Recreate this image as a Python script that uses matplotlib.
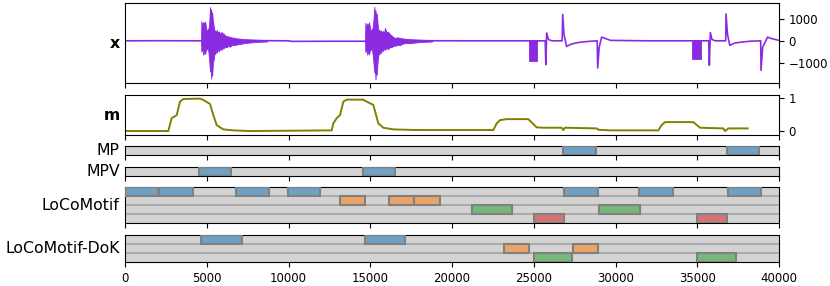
import matplotlib
matplotlib.use("Agg")
import matplotlib.pyplot as plt
from matplotlib.colors import to_rgba

# signal x: line through key points, bursts drawn as filled envelopes
x_t = [0, 2000, 4650, 7000, 8000, 10000, 10200, 12500, 14680, 18000, 21000, 24690,
       25220, 25700, 25740, 25790, 25900, 26100, 26740, 26770, 26850, 27010, 27300,
       27700, 28300, 28880, 28910, 29000, 29150, 29400, 29700, 32000, 34680,
       35210, 35700, 35740, 35800, 35900, 36100, 36740, 36760, 36850, 36990, 37300,
       37700, 38200, 38880, 38900, 39000, 39300, 39550, 40000]
x_v = [0, 5, 0, 10, 10, 0, -25, -20, -20, 5, 0, 0,
       0, 0, -1090, 360, 60, 0, 0, 1210, 300, -260, -150,
       -80, -30, 0, -1240, -300, 170, 100, 20, 0, 0,
       0, 0, -1120, 380, 60, 0, 0, 1230, 300, -210, -100,
       -60, -20, 0, -1350, -300, 170, 100, 20]

burst1_t = [4650, 4670, 4730, 4790, 4850, 4900, 4960, 5000, 5060, 5100, 5150, 5200, 5240,
            5270, 5300, 5330, 5380, 5440, 5480, 5520, 5570, 5610, 5680, 5750, 5820,
            5900, 5960, 6010, 6100, 6200, 6300, 6420, 6550, 6700, 6850, 7030, 7250,
            7500, 7750, 8050, 8400, 8700]
burst1_hi = [0, 900, 700, 860, 780, 880, 600, 420, 520, 550, 800, 1545, 1100,
             1450, 1150, 1300, 900, 600, 420, 480, 350, 500, 380, 430, 300,
             410, 280, 360, 250, 230, 200, 180, 150, 140, 110, 100, 80,
             70, 60, 50, 40, 30]
burst1_lo = [0, -500, -350, -640, -480, -600, -380, -400, -300, -500, -900, -1400, -1200,
             -1727, -1300, -1600, -1000, -800, -520, -600, -420, -545, -400, -480, -330,
             -420, -300, -360, -280, -300, -230, -270, -180, -200, -160, -150, -110,
             -90, -70, -50, -40, -30]

burst2_t = [14680, 14700, 14760, 14820, 14880, 14930, 14990, 15030, 15080, 15130, 15190,
            15250, 15290, 15320, 15360, 15400, 15440, 15470, 15520, 15560, 15600, 15650,
            15720, 15780, 15840, 15900, 16000, 16090, 16200, 16300, 16400, 16510, 16650,
            16800, 16950, 17125, 17350, 17600, 17850, 18150, 18500, 18800]
burst2_hi = [0, 820, 650, 800, 700, 850, 560, 450, 520, 560, 900, 1560, 1100,
             1400, 1050, 1250, 850, 620, 430, 500, 360, 480, 380, 450, 330,
             590, 380, 420, 300, 250, 180, 130, 160, 140, 110, 100, 80,
             70, 60, 50, 40, 30]
burst2_lo = [0, -520, -380, -640, -450, -620, -400, -420, -320, -520, -950, -1450, -1250,
             -1770, -1350, -1550, -1050, -820, -540, -620, -440, -560, -400, -470, -340,
             -410, -330, -380, -280, -300, -220, -230, -190, -200, -140, -100, -110,
             -90, -70, -50, -40, -30]

block_t = [[24690, 25220], [34680, 35210]]
block_lo = [-910, -830]

# m
m_t = [0, 2650, 2854, 3160, 3364, 3568, 4587, 4791, 5199, 5403, 5607, 6014, 6626, 7645,
       12640, 12742, 12946, 13150, 13354, 13558, 14577, 14781, 15189, 15494, 15800, 16411,
       17839, 22528, 22732, 22936, 23343, 24669, 24873, 25180, 25587, 26708, 26810, 26911,
       28848, 28950, 29664, 32620, 32824, 33027, 34760, 35168, 36595, 36697, 36901, 38083]
m_v = [0.0, 0.0, 0.39, 0.48, 0.89, 0.97, 0.98, 0.94, 0.82, 0.48, 0.18, 0.05, 0.02, 0.0,
       0.02, 0.23, 0.39, 0.48, 0.89, 0.95, 0.95, 0.89, 0.79, 0.23, 0.10, 0.05,
       0.03, 0.03, 0.23, 0.33, 0.36, 0.36, 0.26, 0.11, 0.10, 0.10, 0.03, 0.10,
       0.08, 0.04, 0.02, 0.02, 0.18, 0.27, 0.27, 0.10, 0.08, 0.0, 0.08, 0.08]

# motif sets
MP_BLUE = [(26800, 28800), (36800, 38800)]
MPV_BLUE = [(4500, 6500), (14550, 16500)]
LOCO_BLUE = [(0, 2000), (2100, 4150), (6800, 8800), (9950, 11950),
             (26850, 28900), (31450, 33500), (36900, 38900)]
LOCO_ORANGE = [(13150, 14700), (16150, 17700), (17700, 19250)]
LOCO_GREEN = [(21200, 23700), (29000, 31500)]
LOCO_RED = [(25000, 26850), (35000, 36850)]
DOK_BLUE = [(4650, 7150), (14700, 17150)]
DOK_ORANGE = [(23150, 24700), (27400, 28900)]
DOK_GREEN = [(25000, 27350), (35000, 37350)]

W, H = 830, 286
L, R = 125, 779
PURPLE = "blueviolet"


def add_ax(top, bottom):
    return fig.add_axes([L / W, 1 - bottom / H, (R - L) / W, (bottom - top) / H])


def label(ax, text, bold=False):
    ax.text(-0.008, 0.5, text, transform=ax.transAxes, ha="right", va="center",
            fontsize=11.3, fontweight="bold" if bold else "normal")


def motif_panel(ax, rows, name):
    n = len(rows)
    ax.set_facecolor("lightgray")
    for i in range(1, n):
        ax.axhline(i, color="darkgray", lw=1.4)
    for i, (color, segs) in enumerate(rows):
        for s, e in segs:
            ax.barh(i + 0.5, e - s, left=s, height=1, facecolor=to_rgba(color, 0.55),
                    edgecolor="gray", lw=1.5, zorder=3)
    ax.set_ylim(n, 0)
    ax.set_yticks([])
    label(ax, name)


fig = plt.figure(figsize=(W / 100, H / 100), dpi=100)

ax_x = add_ax(3, 83)
ax_x.plot(x_t, x_v, color=PURPLE, lw=1.2)
ax_x.fill_between(burst1_t, burst1_lo, burst1_hi, color=PURPLE, lw=0.6)
ax_x.fill_between(burst2_t, burst2_lo, burst2_hi, color=PURPLE, lw=0.6)
for (s, e), lo in zip(block_t, block_lo):
    ax_x.fill_between([s, e], [lo, lo], [30, 30], color=PURPLE, lw=0.6)
ax_x.set_ylim(-1930, 1730)
ax_x.set_yticks([-1000, 0, 1000])
label(ax_x, "x", bold=True)

ax_m = add_ax(95, 135)
ax_m.plot(m_t, m_v, color="olive", lw=1.4)
ax_m.set_ylim(-0.12, 1.09)
ax_m.set_yticks([0, 1])
label(ax_m, "m", bold=True)

ax_mp = add_ax(146, 155)
motif_panel(ax_mp, [("tab:blue", MP_BLUE)], "MP")

ax_mpv = add_ax(167, 176)
motif_panel(ax_mpv, [("tab:blue", MPV_BLUE)], "MPV")

ax_loco = add_ax(187, 223)
motif_panel(ax_loco, [("tab:blue", LOCO_BLUE), ("tab:orange", LOCO_ORANGE),
                      ("tab:green", LOCO_GREEN), ("tab:red", LOCO_RED)], "LoCoMotif")

ax_dok = add_ax(235, 262)
motif_panel(ax_dok, [("tab:blue", DOK_BLUE), ("tab:orange", DOK_ORANGE),
                     ("tab:green", DOK_GREEN)], "LoCoMotif-DoK")

for ax in [ax_x, ax_m, ax_mp, ax_mpv, ax_loco, ax_dok]:
    ax.set_xlim(0, 40000)
    ax.set_xticks(range(0, 40001, 5000))
    ax.tick_params(labelsize=8.5, length=3.5)
    ax.yaxis.tick_right()
    if ax is not ax_dok:
        ax.tick_params(labelbottom=False)

fig.savefig("out.png", dpi=100)
